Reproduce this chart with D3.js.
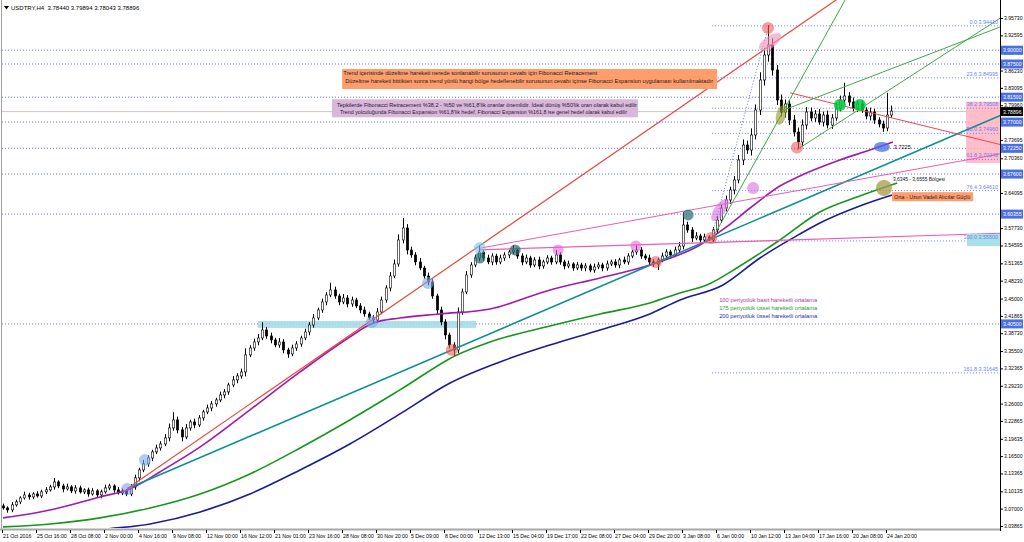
<!DOCTYPE html>
<html><head><meta charset="utf-8">
<script src="https://cdn.jsdelivr.net/npm/d3@7"></script>
<style>body{margin:0;background:#fff;overflow:hidden}svg{display:block;font-family:"Liberation Sans",Arial,sans-serif}</style>
</head><body><svg id="c" width="1024" height="542"></svg>
<script>
// ---------------- DATA ----------------
const titleText = "USDTRY,H4  3.78440 3.79894 3.78043 3.78896";
const firstOpen = 3.075;
const closes = [
3.0713,3.0677,3.0768,3.0822,3.0894,3.0948,3.0912,3.0966,3.0930,3.1003,
3.1039,3.1093,3.1183,3.1111,3.1057,3.1093,3.1021,3.1075,3.1003,3.1039,
3.0966,3.1021,3.0948,3.1003,3.1075,3.1111,3.1039,3.0985,3.1021,3.0966,
3.1093,3.1256,3.1400,3.1509,3.1617,3.1726,3.1798,3.1870,3.1979,3.2160,
3.2304,3.2124,3.1997,3.2160,3.2268,3.2214,3.2341,3.2449,3.2521,3.2594,
3.2666,3.2756,3.2811,3.2937,3.3028,3.3100,3.3172,3.3480,3.3606,3.3715,
3.3787,3.3932,3.3823,3.3751,3.3660,3.3715,3.3570,3.3498,3.3606,3.3678,
3.3787,3.3895,3.4022,3.4149,3.4293,3.4438,3.4564,3.4655,3.4546,3.4438,
3.4510,3.4402,3.4474,3.4366,3.4293,3.4221,3.4149,3.4112,3.4257,3.4474,
3.4691,3.4908,3.5125,3.5559,3.5776,3.5378,3.5288,3.5161,3.5053,3.4908,
3.4799,3.4546,3.4293,3.4076,3.3841,3.3660,3.3570,3.4257,3.4619,3.4926,
3.5107,3.5233,3.5342,3.5233,3.5161,3.5269,3.5161,3.5233,3.5288,3.5342,
3.5378,3.5269,3.5161,3.5233,3.5107,3.5197,3.5089,3.5161,3.5233,3.5161,
3.5288,3.5161,3.5089,3.5125,3.5053,3.5107,3.5053,3.5089,3.5016,3.5071,
3.5107,3.5053,3.5125,3.5161,3.5107,3.5197,3.5161,3.5269,3.5342,3.5378,
3.5269,3.5233,3.5161,3.5125,3.5197,3.5269,3.5342,3.5288,3.5378,3.5450,
3.5830,3.5740,3.5595,3.5631,3.5559,3.5613,3.5559,3.5740,3.5920,3.6137,
3.6282,3.6463,3.6644,3.7005,3.7276,3.7186,3.7457,3.7909,3.8452,3.8904,
3.9084,3.8632,3.8090,3.7873,3.8018,3.7728,3.7511,3.7331,3.7638,3.7873,
3.7765,3.7837,3.7692,3.7819,3.7638,3.7765,3.7945,3.8090,3.8162,3.8054,
3.7945,3.8018,3.7909,3.7801,3.7873,3.7728,3.7656,3.7584,3.7819,3.7890];
const upperWicks = [
.004,.003,.005,.004,.003,.006,.004,.003,.005,.004,
.005,.004,.007,.003,.004,.006,.003,.005,.004,.003,
.004,.005,.003,.004,.006,.004,.003,.005,.004,.003,
.005,.006,.004,.007,.005,.004,.006,.005,.007,.008,
.014,.006,.005,.007,.004,.006,.005,.004,.006,.005,
.004,.006,.005,.004,.007,.005,.006,.012,.005,.006,
.007,.014,.005,.006,.004,.007,.005,.004,.006,.005,
.004,.006,.005,.007,.004,.006,.005,.013,.006,.004,
.007,.005,.006,.004,.005,.006,.004,.005,.007,.006,
.005,.007,.008,.010,.018,.007,.006,.005,.007,.004,
.006,.005,.004,.006,.005,.004,.005,.008,.006,.007,
.005,.006,.013,.004,.006,.005,.004,.006,.005,.004,
.009,.004,.005,.006,.004,.005,.006,.004,.005,.004,
.009,.005,.004,.006,.003,.005,.004,.005,.004,.006,
.005,.004,.006,.004,.005,.004,.006,.005,.004,.009,
.005,.004,.006,.005,.004,.006,.005,.004,.006,.007,
.023,.006,.005,.007,.004,.006,.003,.005,.007,.006,
.008,.006,.007,.009,.010,.008,.012,.010,.014,.012,
.036,.012,.009,.010,.008,.007,.009,.008,.010,.009,
.008,.007,.009,.006,.008,.007,.009,.008,.024,.007,
.008,.006,.007,.005,.008,.006,.005,.006,.040,.010];
const lowerWicks = [
.003,.005,.004,.003,.004,.003,.005,.004,.003,.004,
.004,.003,.005,.004,.006,.003,.004,.005,.003,.004,
.005,.003,.004,.006,.003,.004,.005,.003,.004,.004,
.004,.005,.006,.004,.005,.006,.004,.005,.004,.006,
.005,.006,.008,.004,.005,.006,.004,.005,.004,.006,
.005,.004,.006,.005,.004,.006,.005,.008,.004,.005,
.006,.004,.005,.006,.004,.005,.006,.007,.004,.005,
.005,.004,.006,.005,.004,.005,.006,.004,.005,.006,
.004,.006,.005,.004,.006,.005,.004,.007,.005,.004,
.005,.006,.004,.005,.006,.008,.005,.006,.004,.005,
.006,.005,.007,.006,.008,.006,.011,.006,.005,.004,
.005,.004,.006,.005,.004,.006,.005,.004,.005,.006,
.004,.005,.006,.004,.005,.004,.006,.005,.004,.005,
.004,.005,.006,.004,.005,.004,.005,.006,.004,.005,
.004,.006,.005,.004,.005,.006,.004,.005,.004,.005,
.005,.004,.006,.005,.011,.004,.005,.006,.004,.005,
.006,.005,.007,.004,.006,.005,.002,.004,.006,.005,
.006,.007,.008,.006,.009,.007,.010,.008,.009,.010,
.012,.010,.009,.008,.010,.009,.008,.013,.007,.008,
.006,.007,.005,.008,.006,.007,.005,.006,.008,.007,
.006,.007,.005,.006,.008,.007,.006,.007,.006,.005];

const xLabels = ["21 Oct 2016","25 Oct 16:00","28 Oct 08:00","2 Nov 00:00","4 Nov 16:00","9 Nov 08:00","12 Nov 00:00","16 Nov 12:00","21 Nov 01:00","23 Nov 16:00","28 Nov 08:00","30 Nov 20:00","5 Dec 09:00","8 Dec 00:00","12 Dec 13:00","15 Dec 04:00","19 Dec 17:00","22 Dec 08:00","27 Dec 04:00","29 Dec 20:00","3 Jan 08:00","6 Jan 00:00","10 Jan 12:00","13 Jan 04:00","17 Jan 16:00","20 Jan 08:00","24 Jan 20:00"];
const xLabelIndex = [0,8,16,24,32,40,48,56,64,72,80,88,96,104,112,120,128,136,144,152,160,168,176,184,192,200,208];
const yTicks = [3.95730,3.92595,3.89460,3.86230,3.83095,3.79960,3.73695,3.70360,3.64095,3.57730,3.54595,3.51365,3.48230,3.45000,3.41865,3.38730,3.35500,3.32365,3.29230,3.26000,3.22865,3.19635,3.16500,3.13365,3.10135,3.07000,3.03865];
const keyLevels = [3.90000,3.87500,3.81500,3.77000,3.72250,3.67600,3.60355,3.40500];
const currentPrice = 3.78896;
const fibLabels = ["0.0","23.6","38.2","50.0","61.8","76.4","100.0","161.8"];
const fibValues = [3.94410,3.84995,3.79508,3.74960,3.70248,3.64610,3.55500,3.31645];
const fibStartIndex = 166.8;

// moving averages: [candle index, price]
const sma100 = [[0,3.0533],[11.1,3.0677],[22.8,3.0912],[29.9,3.1057],[36.9,3.1364],[46.4,3.1816],[58.1,3.2485],[69.9,3.3172],[81.6,3.3805],[87.1,3.4058],[93.4,3.4149],[102.8,3.4221],[114.6,3.4311],[128.7,3.4655],[140.5,3.4872],[152.2,3.5107],[164,3.5468],[169.9,3.5776],[175.8,3.6137],[182.8,3.6535],[187.5,3.6716],[196.9,3.7005],[204,3.7186],[209.4,3.7331]];
const ema175 = [[0,3.0370],[11.1,3.0424],[22.8,3.0533],[34.6,3.0713],[46.4,3.0966],[58.1,3.1328],[69.9,3.1798],[81.6,3.2304],[93.4,3.2847],[106.8,3.3480],[114.6,3.3715],[128.7,3.4004],[140.5,3.4221],[152.2,3.4420],[159.3,3.4601],[165.6,3.4745],[173.4,3.5089],[182.8,3.5559],[192.2,3.6065],[201.6,3.6354],[210.4,3.6589]];
const ema200 = [[13.4,3.0207],[22.8,3.0316],[34.6,3.0424],[46.4,3.0641],[58.1,3.0966],[69.9,3.1400],[81.6,3.1870],[93.4,3.2413],[105.2,3.2973],[116.9,3.3353],[128.7,3.3660],[140.5,3.3932],[152.2,3.4221],[159.3,3.4474],[169.4,3.4745],[178.1,3.5233],[187.5,3.5667],[192.2,3.5866],[201.6,3.6174],[209.2,3.6372]];

// trend lines (rays): two anchor points [index, price]
const rayMainUp   = [[29.2,3.106],[180,3.905]];
const rayTeal     = [[29.2,3.106],[105.6,3.357]];
const rayPinkUp   = [[112.2,3.541],[196.9,3.659]];
const rayPinkFlat = [[112.2,3.538],[148.9,3.547]];
const rayRedDown  = [[185.2,3.822],[211.1,3.773]];
const rayGreenSteep = [[167.1,3.561],[183.1,3.782]];
const rayGreenA   = [[186.8,3.719],[234.6,3.957]];
const rayGreenB   = [[183.1,3.789],[234.6,3.941]];
const fibDiagonal = [[166.6,3.5595],[180,3.9392]];

// highlighted zones
const supportBand = [[60,3.3968],[111.3,3.4095]];
const targetZone = [[226.6,3.695],[235,3.806]];

// markers on chart [index, price] and their kind
const markerPts = [[29.2,3.1057],[33.4,3.1582],[86.8,3.4076],[100,3.4781],[105.6,3.3570],[112.2,3.5414],[112.2,3.5233],[120.5,3.5378],[130.6,3.5378],[148.9,3.5450],[153.6,3.5161],[161.2,3.6011],[166.6,3.5595],[168.7,3.6101],[176.5,3.6499],[180,3.9392],[180.5,3.9139],[183.1,3.7819],[186.8,3.7230],[196.9,3.7999],[201.6,3.7999],[206.8,3.7240],[207.3,3.6499]];
const markerKind = ["lav","blue","blue","blue","red","cyan","teal","teal","pink","pink","red","teal","red","violetLong","violet","red","pinkLong","olive","red","green","green","blueFlat","khaki"];

// annotations
const noteFibA = ["Trend içerisinde düzeltme hareketi nerede sonlanabilir  sorusunun cevabı için Fibonacci Retracement",
                  " Düzeltme hareketi bittikten sonra trend yönlü hangi bölge  hedeflenebilir sorusunun cevabı içinse Fibonacci Expansion  uygulaması kullanılmaktadır"];
const noteFibB = ["Tepkilerde Fibonacci Retracement %38,2 - %50 ve %61,8'lik oranlar önemlidir. İdeal dönüş %50'lik oran olarak kabul edilir",
                  "Trend yolculuğunda Fibonacci Expansion %61,8'lik hedef, Fibonacci Expansion %161,8 ise genel hedef olarak kabul edilir"];
const legendTexts = ["100 periyotluk basit hareketli ortalama","175 periyotluk üssel hareketli ortalama","200 periyotluk üssel hareketli ortalama"];
const zoneText = "3,6345 - 3,6555 Bölgesi";
const zoneNote = "Orta - Uzun Vadeli Alıcılar Güçlü";
const maTouchText = "3.7225";

// ---------------- DRAW ----------------
const svg = d3.select("#c");
const P = {l:2, r:1000, t:0, b:528};
const x = d3.scaleLinear().domain([0, closes.length-1]).range([3, 891.25]);
const y = d3.scaleLinear().domain([yTicks[yTicks.length-1], yTicks[0]]).range([526, 18]);

svg.append("rect").attr("width",1024).attr("height",542).attr("fill","#fff");
svg.append("defs").append("clipPath").attr("id","clip").append("rect")
  .attr("x",P.l).attr("y",P.t).attr("width",P.r-P.l).attr("height",P.b-P.t);
const g = svg.append("g").attr("clip-path","url(#clip)");

g.selectAll(".lvl").data(keyLevels).join("line")
  .attr("x1",P.l).attr("x2",P.r).attr("y1",d=>y(d)+0.5).attr("y2",d=>y(d)+0.5)
  .attr("stroke","#6b74f2").attr("stroke-width",1).attr("stroke-dasharray","1,2");
g.append("line").attr("x1",P.l).attr("x2",P.r).attr("y1",y(currentPrice)+0.5).attr("y2",y(currentPrice)+0.5)
  .attr("stroke","#c8c8c8").attr("stroke-width",1);

g.append("rect").attr("x",x(supportBand[0][0])).attr("width",x(supportBand[1][0])-x(supportBand[0][0]))
  .attr("y",y(supportBand[1][1])).attr("height",y(supportBand[0][1])-y(supportBand[1][1]))
  .attr("fill","#9fd9ea").attr("opacity",0.85);
g.append("rect").attr("x",x(targetZone[0][0])).attr("width",P.r-x(targetZone[0][0]))
  .attr("y",y(targetZone[1][1])).attr("height",y(targetZone[0][1])-y(targetZone[1][1]))
  .attr("fill","#ffb3c1").attr("opacity",0.85);

const fibG = g.append("g");
fibValues.forEach((v)=>{
  fibG.append("line").attr("x1",x(fibStartIndex)).attr("x2",P.r).attr("y1",y(v)+0.5).attr("y2",y(v)+0.5)
    .attr("stroke","#7382f0").attr("stroke-width",1).attr("stroke-dasharray","1,2");
});

const candles = closes.map((c,i)=>{
  const o = i===0 ? firstOpen : closes[i-1];
  return {i,o,c,h:Math.max(o,c)+upperWicks[i],l:Math.min(o,c)-lowerWicks[i]};
});
const cg = g.append("g");
cg.selectAll("line").data(candles).join("line")
  .attr("x1",d=>Math.round(x(d.i))+0.5).attr("x2",d=>Math.round(x(d.i))+0.5)
  .attr("y1",d=>y(d.h)).attr("y2",d=>y(d.l)).attr("stroke","#000").attr("stroke-width",1);
cg.selectAll("rect").data(candles).join("rect")
  .attr("x",d=>Math.round(x(d.i))-0.7).attr("width",2.4)
  .attr("y",d=>y(Math.max(d.o,d.c))).attr("height",d=>Math.max(1,Math.abs(y(d.o)-y(d.c))))
  .attr("fill",d=>d.c>=d.o?"#fff":"#000").attr("stroke","#000").attr("stroke-width",0.6);

const maLine = d3.line().x(d=>x(d[0])).y(d=>y(d[1])).curve(d3.curveMonotoneX);
[[sma100,"#a01ab0"],[ema175,"#16961c"],[ema200,"#1b1b96"]].forEach(([data,col])=>{
  g.append("path").attr("d",maLine(data)).attr("fill","none").attr("stroke",col).attr("stroke-width",1.6);
});

function ray(pts,col,w,dash){
  const x1=x(pts[0][0]), y1=y(pts[0][1]), x2=x(pts[1][0]), y2=y(pts[1][1]);
  const s=(y2-y1)/(x2-x1);
  const xe=P.r+5, ye=y1+s*(xe-x1);
  const l=g.append("line").attr("x1",x1).attr("y1",y1).attr("x2",xe).attr("y2",ye)
    .attr("stroke",col).attr("stroke-width",w);
  if(dash) l.attr("stroke-dasharray",dash);
}
ray(rayTeal,"#0e8f94",1.6);
ray(rayMainUp,"#e8473c",1.2);
ray(rayPinkUp,"#ee5cb4",1);
ray(rayPinkFlat,"#ee5cb4",1.2);
ray(rayRedDown,"#f04848",1);
ray(rayGreenSteep,"#3fa93f",1);
ray(rayGreenA,"#3fa93f",1);
ray(rayGreenB,"#3fa93f",1);
g.append("line").attr("x1",x(fibDiagonal[0][0])).attr("y1",y(fibDiagonal[0][1]))
  .attr("x2",x(fibDiagonal[1][0])).attr("y2",y(fibDiagonal[1][1]))
  .attr("stroke","#5a6cf0").attr("stroke-width",1).attr("stroke-dasharray","1,2");

const mStyle = {
  lav:{c:"rgba(130,140,230,0.55)",rx:6,ry:6,r:0},
  blue:{c:"rgba(120,170,235,0.6)",rx:6,ry:6,r:0},
  cyan:{c:"rgba(120,200,235,0.6)",rx:6,ry:6,r:0},
  teal:{c:"rgba(40,105,110,0.7)",rx:5.5,ry:5.5,r:0},
  red:{c:"rgba(240,90,90,0.6)",rx:6,ry:6,r:0},
  pink:{c:"rgba(230,100,225,0.6)",rx:5.5,ry:5.5,r:0},
  violet:{c:"rgba(215,110,225,0.6)",rx:6,ry:6,r:0},
  violetLong:{c:"rgba(215,110,225,0.6)",rx:13,ry:5.5,r:-55},
  pinkLong:{c:"rgba(240,150,190,0.65)",rx:13,ry:6,r:-35},
  olive:{c:"rgba(150,150,40,0.6)",rx:5,ry:10,r:15},
  green:{c:"rgba(0,205,60,0.85)",rx:6,ry:6,r:0},
  blueFlat:{c:"rgba(70,110,230,0.75)",rx:8,ry:5,r:0},
  khaki:{c:"rgba(165,155,70,0.75)",rx:8,ry:8,r:0}
};
markerPts.forEach((p,k)=>{
  const s=mStyle[markerKind[k]];
  g.append("ellipse").attr("cx",0).attr("cy",0).attr("rx",s.rx).attr("ry",s.ry).attr("fill",s.c)
   .attr("transform",`translate(${x(p[0])},${y(p[1])}) rotate(${s.r})`);
});

fibValues.forEach((v,k)=>{
  if(fibLabels[k]==="100.0"){
    g.append("rect").attr("x",967).attr("y",y(v)-6.5).attr("width",P.r-967).attr("height",12).attr("fill","#a8e0e8");
  }
  g.append("text").attr("x",998).attr("y",y(v)-1.5).attr("text-anchor","end")
   .attr("font-size",5.4).attr("fill","#6d7ff0").text(fibLabels[k]+" "+v.toFixed(5));
});

function box(ax,ay,w,h,fill,lines,offs,lens,col){
  const X=x(ax), Y=y(ay);
  svg.append("rect").attr("x",X).attr("y",Y).attr("width",w).attr("height",h).attr("fill",fill);
  lines.forEach((t,k)=>{
    svg.append("text").attr("x",X+offs[k][0]).attr("y",Y+offs[k][1]).attr("font-size",5.6).attr("fill",col||"#222")
      .attr("textLength",lens[k]).attr("lengthAdjust","spacingAndGlyphs").text(t);
  });
}
box(79.8,3.8651,375,20,"#ff9d6c",noteFibA,[[1,6.5],[3,14]],[254,368]);
box(77.4,3.8103,306,18,"#d9b6dc",noteFibB,[[5,7.3],[8,14.6]],[300,287]);
box(209.2,3.6423,81,9,"#ff9d6c",[zoneNote],[[2,7]],[76]);
svg.append("text").attr("x",x(209.4)).attr("y",y(3.6618)).attr("font-size",5.6).attr("fill","#111")
  .attr("textLength",52).attr("lengthAdjust","spacingAndGlyphs").text(zoneText);
svg.append("text").attr("x",x(209.6)).attr("y",y(3.7240)+2).attr("font-size",5.8).attr("fill","#111")
  .attr("textLength",17).attr("lengthAdjust","spacingAndGlyphs").text(maTouchText);
const legCols=["#a53ab5","#2a9a2a","#2a2aa8"];
legendTexts.forEach((t,k)=>{
  svg.append("text").attr("x",x(168.5)).attr("y",y(3.4438)+k*8).attr("font-size",5.6).attr("fill",legCols[k])
    .attr("textLength",98).attr("lengthAdjust","spacingAndGlyphs").text(t);
});

svg.append("line").attr("x1",1.5).attr("x2",1.5).attr("y1",0).attr("y2",530).attr("stroke","#a0a0a0");
svg.append("line").attr("x1",0).attr("x2",P.r).attr("y1",529.5).attr("y2",529.5).attr("stroke","#a8a8a8").attr("stroke-width",2);
svg.append("line").attr("x1",P.r+0.5).attr("x2",P.r+0.5).attr("y1",0).attr("y2",531).attr("stroke","#000");

const ax = svg.append("g");
yTicks.forEach(v=>{
  ax.append("line").attr("x1",P.r).attr("x2",P.r+3).attr("y1",y(v)+0.5).attr("y2",y(v)+0.5).attr("stroke","#000");
  ax.append("text").attr("x",1004).attr("y",y(v)+2).attr("font-size",5.6).attr("fill","#000")
    .attr("textLength",18.5).attr("lengthAdjust","spacingAndGlyphs").text(v.toFixed(5));
});
keyLevels.forEach(v=>{
  ax.append("rect").attr("x",1001).attr("y",y(v)-4).attr("width",22).attr("height",9).attr("fill","#4a6fe4");
  ax.append("text").attr("x",1003).attr("y",y(v)+2.5).attr("font-size",5.6).attr("fill","#fff")
    .attr("textLength",18.5).attr("lengthAdjust","spacingAndGlyphs").text(v.toFixed(5));
});
ax.append("rect").attr("x",1001).attr("y",y(currentPrice)-4).attr("width",22).attr("height",9).attr("fill","#000");
ax.append("text").attr("x",1003).attr("y",y(currentPrice)+2.5).attr("font-size",5.6).attr("fill","#fff")
  .attr("textLength",18.5).attr("lengthAdjust","spacingAndGlyphs").text(currentPrice.toFixed(5));

xLabels.forEach((t,k)=>{
  const X=Math.round(x(xLabelIndex[k]))-1;
  svg.append("line").attr("x1",X+0.5).attr("x2",X+0.5).attr("y1",530).attr("y2",533).attr("stroke","#000");
  svg.append("text").attr("x",X+1).attr("y",538).attr("font-size",5.2).attr("fill","#000").text(t);
});

svg.append("path").attr("d","M4,6 L9,6 L6.5,9.5 Z").attr("fill","#000");
svg.append("text").attr("x",11).attr("y",9.5).attr("font-size",6).attr("fill","#000").attr("xml:space","preserve").text(titleText);
</script></body></html>
